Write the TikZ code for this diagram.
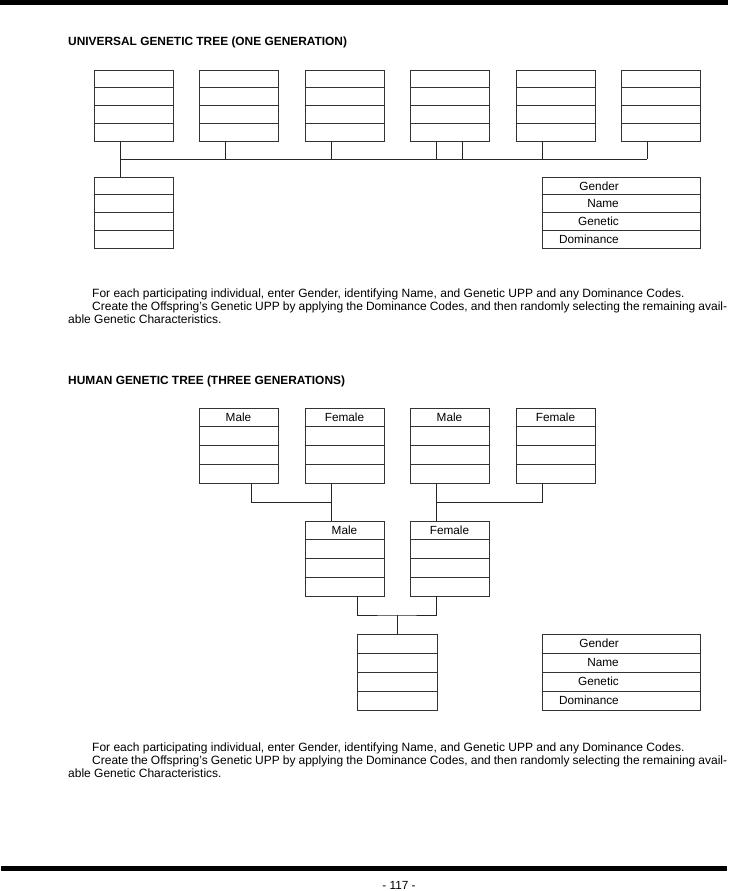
\documentclass[tikz,border=0pt]{standalone}
\usepackage{fontspec}
\setmainfont{Liberation Sans}
\usetikzlibrary{calc}
\tikzset{
  boxst/.style={draw=black!80, line width=0.8pt, inner sep=0pt, outer sep=0pt},
  rowline/.style={draw=black!80, line width=0.8pt},
  conn/.style={draw=black!85, line width=0.8pt},
  lbl/.style={inner sep=0pt, font=\fontsize{11.8}{13}\selectfont},
  ttl/.style={inner sep=0pt, anchor=base west, font=\fontsize{11.9}{13}\selectfont\bfseries},
  body/.style={inner sep=0pt, anchor=base west, font=\fontsize{12}{13}\selectfont},
}
\newcommand\genbox[5]{% name, left, top, width, height
  \node[boxst, minimum width=#4pt, minimum height=#5pt, anchor=north west] (#1) at (#2,#3) {};
  \foreach \k in {1,2,3}
    \draw[rowline] ($(#1.north west)!\k/4!(#1.south west)$) -- ($(#1.north east)!\k/4!(#1.south east)$);
}
\begin{document}
\begin{tikzpicture}[x=1pt,y=-1pt]
\useasboundingbox[fill=white] (0,0) rectangle (728,891);
% bars
\fill[black] (0,0) rectangle (728,5);
\fill[black] (1,866) rectangle (727,871);
\node[lbl, anchor=base] (pg) at (399,889) {- 117 -};

% ---------- Universal tree ----------
\node[ttl] (t1) at (68,46) {UNIVERSAL GENETIC TREE (ONE GENERATION)};
\genbox{U1}{94}{70}{79}{71}
\genbox{U2}{199}{70}{79}{71}
\genbox{U3}{305}{70}{79}{71}
\genbox{U4}{410}{70}{79}{71}
\genbox{U5}{516}{70}{79}{71}
\genbox{U6}{621}{70}{79}{71}
\genbox{UC}{94}{177}{79}{71}
\genbox{UL}{542}{177}{158}{71}
\coordinate (bus) at (0,159);
\coordinate (d1) at ($(U1.south west)!1/3!(U1.south east)$);
\coordinate (d2) at ($(U2.south west)!1/3!(U2.south east)$);
\coordinate (d3) at ($(U3.south west)!1/3!(U3.south east)$);
\coordinate (d4) at ($(U4.south west)!1/3!(U4.south east)$);
\coordinate (d4b) at ($(U4.south west)!2/3!(U4.south east)$);
\coordinate (d5) at ($(U5.south west)!1/3!(U5.south east)$);
\coordinate (d6) at ($(U6.south west)!1/3!(U6.south east)$);
\coordinate (dc) at ($(UC.north west)!1/3!(UC.north east)$);
\draw[conn] (d1) -- (dc);
\draw[conn] (d1 |- bus) -- (d6 |- bus);
\foreach \d in {d2,d3,d4,d4b,d5,d6} \draw[conn] (\d) -- (\d |- bus);
\node[lbl, anchor=base east] (ul1) at (619,190.1) {Gender};
\node[lbl, anchor=base east] (ul2) at (619,207.9) {Name};
\node[lbl, anchor=base east] (ul3) at (619,225.6) {Genetic};
\node[lbl, anchor=base east] (ul4) at (619,243.4) {Dominance};

\node[body] (p1a) at (92,297) {For each participating individual, enter Gender, identifying Name, and Genetic UPP and any Dominance Codes.};
\node[body] (p1b) at (92,310) {\hbox to 635pt{Create the Offspring’s Genetic UPP by applying the Dominance Codes, and then randomly selecting the remaining avail-}};
\node[body] (p1c) at (68,323) {able Genetic Characteristics.};

% ---------- Human tree ----------
\node[ttl] (t2) at (68,384) {HUMAN GENETIC TREE (THREE GENERATIONS)};
\genbox{H1}{199}{408}{79}{75}
\genbox{H2}{305}{408}{79}{75}
\genbox{H3}{410}{408}{79}{75}
\genbox{H4}{516}{408}{79}{75}
\genbox{HM}{305}{521}{79}{75}
\genbox{HF}{410}{521}{79}{75}
\genbox{HC}{357}{634}{80}{76}
\genbox{HL}{542}{634}{158}{76}
\foreach \n/\t in {H1/Male,H2/Female,H3/Male,H4/Female,HM/Male,HF/Female}
  \node[lbl, anchor=base] at ($($(\n.north)!0.125!(\n.south)$)+(0,4.2)$) {\t};
\node[lbl, anchor=base east] (hl1) at (619,647.7) {Gender};
\node[lbl, anchor=base east] (hl2) at (619,666.7) {Name};
\node[lbl, anchor=base east] (hl3) at (619,685.7) {Genetic};
\node[lbl, anchor=base east] (hl4) at (619,704.7) {Dominance};

\coordinate (h1b) at ($(H1.south west)!2/3!(H1.south east)$);
\coordinate (h2b) at ($(H2.south west)!1/3!(H2.south east)$);
\coordinate (h3b) at ($(H3.south west)!1/3!(H3.south east)$);
\coordinate (h4b) at ($(H4.south west)!1/3!(H4.south east)$);
\coordinate (hmt) at ($(HM.north west)!1/3!(HM.north east)$);
\coordinate (hft) at ($(HF.north west)!1/3!(HF.north east)$);
\coordinate (j1) at ($(h2b)!0.5!(hmt)$);
\coordinate (j2) at ($(h3b)!0.5!(hft)$);
\draw[conn] (h2b) -- (hmt);
\draw[conn] (h1b) |- (j1);
\draw[conn] (h3b) -- (hft);
\draw[conn] (h4b) |- (j2);
\coordinate (hmb) at ($(HM.south west)!2/3!(HM.south east)$);
\coordinate (hfb) at ($(HF.south west)!1/3!(HF.south east)$);
\coordinate (j3) at ($(HC.north)+(0,-19)$);
\draw[conn] (hmb) |- (j3) -| (hfb);
\draw[conn] (j3) -- (HC.north);

\node[body] (p2a) at (92,751) {For each participating individual, enter Gender, identifying Name, and Genetic UPP and any Dominance Codes.};
\node[body] (p2b) at (92,764) {\hbox to 635pt{Create the Offspring’s Genetic UPP by applying the Dominance Codes, and then randomly selecting the remaining avail-}};
\node[body] (p2c) at (68,777) {able Genetic Characteristics.};
\end{tikzpicture}
\end{document}
